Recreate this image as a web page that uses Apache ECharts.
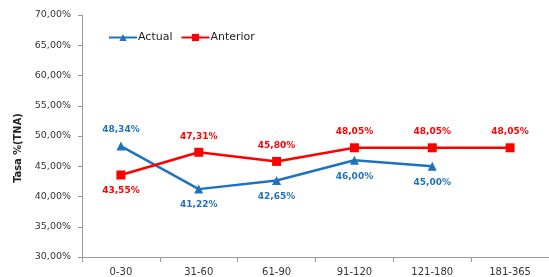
<!DOCTYPE html>
<html><head><meta charset="utf-8">
<script src="https://cdn.jsdelivr.net/npm/echarts@6/dist/echarts.min.js"></script>
<style>html,body{margin:0;padding:0;background:#fff}#c{width:549px;height:277px}</style>
</head><body><div id="c"></div>
<script>
const categories = ['0-30','31-60','61-90','91-120','121-180','181-365'];
const actual = [48.34, 41.22, 42.65, 46.00, 45.00, null];
const anterior = [43.55, 47.31, 45.80, 48.05, 48.05, 48.05];
const actualLabelPos = ['top','bottom','bottom','bottom','bottom','bottom'];
const anteriorLabelPos = ['bottom','top','top','top','top','top'];
const yTicks = {min: 30, max: 70, interval: 5};
const yTitle = 'Tasa %(TNA)';

const fmt = v => v.toFixed(2).replace('.', ',') + '%';
const blue = '#1F72BE', red = '#FF0000';
const chart = echarts.init(document.getElementById('c'));
function mk(vals, pos) {
  return vals.map((v, i) => v == null ? null : {value: v, label: {position: pos[i]}});
}
chart.setOption({
  animation: false,
  grid: {left: 82, right: -6, top: 15, bottom: 19},
  graphic: [{
    type: 'text', x: 18, y: 148, rotation: Math.PI / 2,
    style: {text: yTitle, fontFamily: 'DejaVu Sans Condensed', fontSize: 11, fontWeight: 'bold',
            fill: '#222', align: 'center', verticalAlign: 'middle'}
  }],
  legend: {
    left: 103, top: 27, itemWidth: 28, itemHeight: 9, itemGap: 8,
    textStyle: {fontFamily: 'DejaVu Sans', fontSize: 11, color: '#222', padding: [0, 0, 0, -4]},
    data: ['Actual', 'Anterior']
  },
  xAxis: {
    type: 'category', data: categories, boundaryGap: true,
    axisLine: {lineStyle: {color: '#999'}},
    axisTick: {show: true, length: 5, lineStyle: {color: '#999'}},
    axisLabel: {fontFamily: 'DejaVu Sans', fontSize: 10, color: '#333', margin: 10}
  },
  yAxis: {
    type: 'value', min: yTicks.min, max: yTicks.max, interval: yTicks.interval,
    axisLine: {show: true, lineStyle: {color: '#999'}},
    axisTick: {show: true, length: 4, lineStyle: {color: '#999'}},
    splitLine: {show: false},
    axisLabel: {fontFamily: 'DejaVu Sans', fontSize: 9.5, color: '#333', margin: 11, formatter: v => fmt(v)}
  },
  series: [
    {
      name: 'Actual', type: 'line', data: mk(actual, actualLabelPos),
      symbol: 'triangle', symbolSize: 9,
      lineStyle: {color: blue, width: 2.5}, itemStyle: {color: blue},
      label: {show: true, distance: 7, color: blue, fontFamily: 'DejaVu Sans', fontSize: 9, fontWeight: 'bold', formatter: p => fmt(p.value)}
    },
    {
      name: 'Anterior', type: 'line', data: mk(anterior, anteriorLabelPos),
      symbol: 'rect', symbolSize: 9,
      lineStyle: {color: red, width: 2.5}, itemStyle: {color: red},
      label: {show: true, distance: 7, color: red, fontFamily: 'DejaVu Sans', fontSize: 9, fontWeight: 'bold', formatter: p => fmt(p.value)}
    }
  ]
});
</script></body></html>
